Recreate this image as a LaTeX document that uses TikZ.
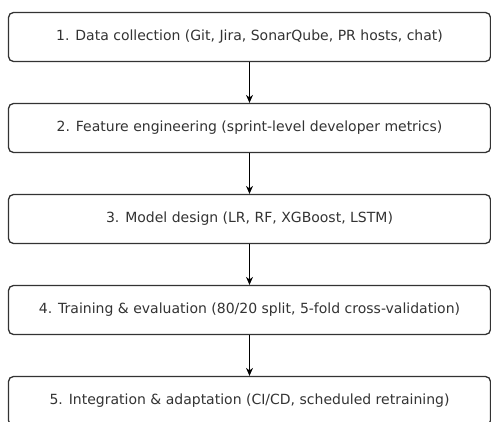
\documentclass[tikz,border=0pt]{standalone}
\usepackage{fontspec}
\setmainfont{DejaVu Sans}
\usetikzlibrary{arrows.meta}
\definecolor{ink}{HTML}{333333}
\tikzset{
  stage/.style={draw=ink, line width=1.3pt, rounded corners=5pt, fill=white,
    minimum width=482pt, minimum height=49pt, inner sep=0pt,
    text=ink, font=\fontsize{14}{16}\selectfont},
  flow/.style={-{Stealth[length=8pt,width=7pt]}, line width=1pt, black}
}
\begin{document}
\begin{tikzpicture}[x=1pt,y=-1pt]
  \useasboundingbox (0,0) rectangle (491,422);
  \node[stage] (s1) at (249.5,37)  {1. Data collection (Git, Jira, SonarQube, PR hosts, chat)};
  \node[stage] (s2) at (249.5,128) {2. Feature engineering (sprint-level developer metrics)};
  \node[stage] (s3) at (249.5,219) {3. Model design (LR, RF, XGBoost, LSTM)};
  \node[stage] (s4) at (249.5,310) {4. Training \& evaluation (80/20 split, 5-fold cross-validation)};
  \node[stage] (s5) at (249.5,401) {5. Integration \& adaptation (CI/CD, scheduled retraining)};
  \draw[flow] (s1) -- (s2);
  \draw[flow] (s2) -- (s3);
  \draw[flow] (s3) -- (s4);
  \draw[flow] (s4) -- (s5);
\end{tikzpicture}
\end{document}
